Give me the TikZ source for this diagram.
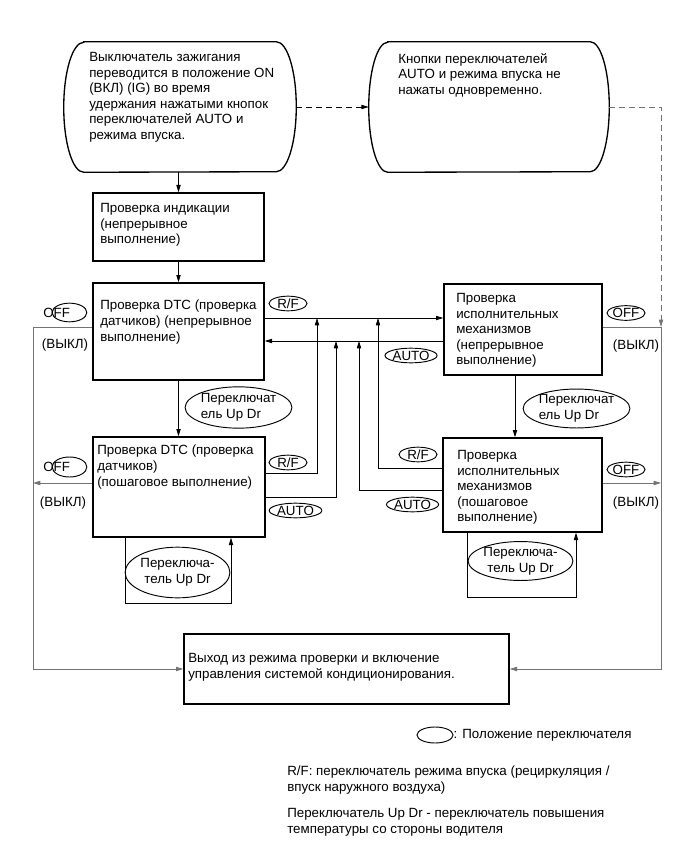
\documentclass[tikz,border=0pt]{standalone}
\usepackage{fontspec}
\setmainfont{Liberation Sans}
\usetikzlibrary{shapes.geometric,arrows.meta,fit}

\tikzset{
  box/.style={draw, line width=1pt, inner sep=0pt},
  txt/.style={anchor=north west, align=left, inner sep=0pt},
  sw/.style={draw, ellipse, line width=0.7pt, inner sep=0pt, text height=7.2pt, text depth=0pt, minimum height=11pt},
  swbig/.style={draw, ellipse, line width=0.7pt, inner sep=0pt, align=left},
  con/.style={line width=0.6pt, -{Triangle[length=5.5pt,width=3.2pt]}},
  offline/.style={con, draw=black!55},
}

\begin{document}
\begin{tikzpicture}[x=0.75pt, y=-0.75pt, font=\fontsize{10}{11.7}\selectfont]
  \useasboundingbox (0,0) rectangle (691,855);

  \coordinate (leftrail) at (33,0);
  \coordinate (rightrail) at (661,0);

  %% start and release conditions
  \node[fit={(64,42) (296,172)}, inner sep=0pt] (start) {};
  \draw[box] ([xshift=15pt]start.north west) -- ([xshift=-15pt]start.north east)
    arc[start angle=90, end angle=-90, x radius=15pt, y radius=48.75pt]
    -- ([xshift=15pt]start.south west)
    arc[start angle=270, end angle=90, x radius=15pt, y radius=48.75pt] -- cycle;
  \node[txt] (starttxt) at (89,52) {Выключатель зажигания\\переводится в положение ON\\(ВКЛ) (IG) во время\\удержания нажатыми кнопок\\переключателей AUTO и\\режима впуска.};

  \node[fit={(369,42) (609,172)}, inner sep=0pt] (release) {};
  \draw[box] ([xshift=14.25pt]release.north west) -- ([xshift=-14.25pt]release.north east)
    arc[start angle=90, end angle=-90, x radius=14.25pt, y radius=48.75pt]
    -- ([xshift=14.25pt]release.south west)
    arc[start angle=270, end angle=90, x radius=14.25pt, y radius=48.75pt] -- cycle;
  \node[txt] (releasetxt) at (398,53) {Кнопки переключателей\\AUTO и режима впуска не\\нажаты одновременно.};

  %% check boxes
  \node[box, fit={(93,193) (264,261)}] (ind) {};
  \node[txt] (indtxt) at (100,203) {Проверка индикации\\(непрерывное\\выполнение)};

  \node[box, fit={(93,283) (264,380)}] (dtc) {};
  \node[txt] (dtctxt) at (100,300) {Проверка DTC (проверка\\датчиков) (непрерывное\\выполнение)};

  \node[box, fit={(93,437) (265,537)}] (dtcstep) {};
  \node[txt] (dtcsteptxt) at (97,445) {Проверка DTC (проверка\\датчиков)\\(пошаговое выполнение)};

  \node[box, fit={(444,284) (602,375)}] (act) {};
  \node[txt] (acttxt) at (456,293) {Проверка\\исполнительных\\механизмов\\(непрерывное\\выполнение)};

  \node[box, fit={(443,438) (602,532)}] (actstep) {};
  \node[txt] (actsteptxt) at (457,450) {Проверка\\исполнительных\\механизмов\\(пошаговое\\выполнение)};

  \node[box, fit={(184,634) (509,704)}] (exit) {};
  \node[txt] (exittxt) at (188,653) {Выход из режима проверки и включение\\управления системой кондиционирования.};

  %% switch labels
  \node[sw, minimum width=28.5pt] (rfa) at (288,303.5) {R/F};
  \node[sw, minimum width=39pt] (autoa) at (411,355.5) {AUTO};
  \node[sw, minimum width=28.5pt] (rfb) at (288,462.5) {R/F};
  \node[sw, minimum width=39.5pt] (autob) at (295.5,510.5) {AUTO};
  \node[sw, minimum width=28.5pt] (rfc) at (418,454.5) {R/F};
  \node[sw, minimum width=38.5pt] (autoc) at (412.5,504.5) {AUTO};
  \node[sw, minimum width=28.5pt] (offa) at (626,313) {OFF};
  \node[sw, minimum width=28.5pt] (offb) at (626,469.5) {OFF};

  \node[draw, ellipse, line width=0.7pt, minimum width=26pt, minimum height=14pt] (offcmark) at (69.5,312.5) {};
  \node[anchor=west, inner sep=0pt] (offc) at (43,312.5) {OFF};
  \node[draw, ellipse, line width=0.7pt, minimum width=26pt, minimum height=15pt] (offdmark) at (69.5,467) {};
  \node[anchor=west, inner sep=0pt] (offd) at (43,467) {OFF};

  \node (vykla) at (65,345) {(ВЫКЛ)};
  \node (vyklb) at (63,503) {(ВЫКЛ)};
  \node (vyklc) at (636,346) {(ВЫКЛ)};
  \node (vykld) at (636,503) {(ВЫКЛ)};

  \node[swbig, minimum width=76pt, minimum height=31pt] (updra) at (238.5,407.5) {Переключат\\ель Up Dr};
  \node[swbig, minimum width=74pt, minimum height=29pt] (updrb) at (576.5,408.5) {Переключат\\ель Up Dr};
  \node[swbig, minimum width=76pt, minimum height=38pt, align=center] (loopa) at (177.5,572.5) {Переключа-\\тель Up Dr};
  \node[swbig, minimum width=76pt, minimum height=28.5pt, align=center] (loopb) at (520.5,561) {Переключа-\\тель Up Dr};

  %% legend and notes
  \node[draw, ellipse, line width=0.7pt, minimum width=27pt, minimum height=12pt] (legmark) at (435,735) {};
  \node[anchor=west, inner sep=0pt] (legtxt) at (legmark.east) {: Положение переключателя};
  \node[txt] (noterf) at (287,766) {R/F: переключатель режима впуска (рециркуляция /\\впуск наружного воздуха)};
  \node[txt] (noteupdr) at (287,808) {Переключатель Up Dr - переключатель повышения\\температуры со стороны водителя};

  %% connectors
  \draw[con, dashed, dash pattern=on 4.5pt off 3pt] (start.east) -- (release.west); % start -> release
  \draw[con, dashed, dash pattern=on 4.5pt off 3pt, draw=black!55] (release.east) -| (rightrail |- 0,327); % release -> off rail

  \draw[con] (start.south -| ind.north) -- (ind.north);
  \draw[con] (ind.south) -- (dtc.north);
  \draw[con] (dtc.south) -- (dtc.south |- dtcstep.north);
  \draw[con] ([xshift=-6pt]act.south) -- ([xshift=-6pt]act.south |- actstep.north);

  \draw[con] (dtc.east |- 0,318) -- (act.west |- 0,318); %% R/F
  \draw[con] (act.west |- 0,341) -- (dtc.east |- 0,341); %% AUTO
  \draw[con] (dtcstep.east |- 0,473) -| (317,318);
  \draw[con] (dtcstep.east |- 0,497) -| (336,341);
  \draw[con] (actstep.west |- 0,468) -| (378,318);
  \draw[con] (actstep.west |- 0,490) -| (359,341);

  \draw[con] (dtcstep.south -| 125,0) |- (231,603) -- (dtcstep.south -| 231,0); % loop
  \draw[con] (actstep.south -| 467,0) |- (576,597) -- (actstep.south -| 576,0); % loop

  \draw[offline] (dtc.west |- 0,327) -| (leftrail |- exit.west) -- (exit.west); %% OFF
  \draw[offline] (dtcstep.west |- 0,483) -- (leftrail |- 0,483);
  \draw[offline] (act.east |- 0,327) -| (rightrail |- exit.east) -- (exit.east); %% OFF
  \draw[offline] (actstep.east |- 0,483) -- (rightrail |- 0,483);
\end{tikzpicture}
\end{document}
